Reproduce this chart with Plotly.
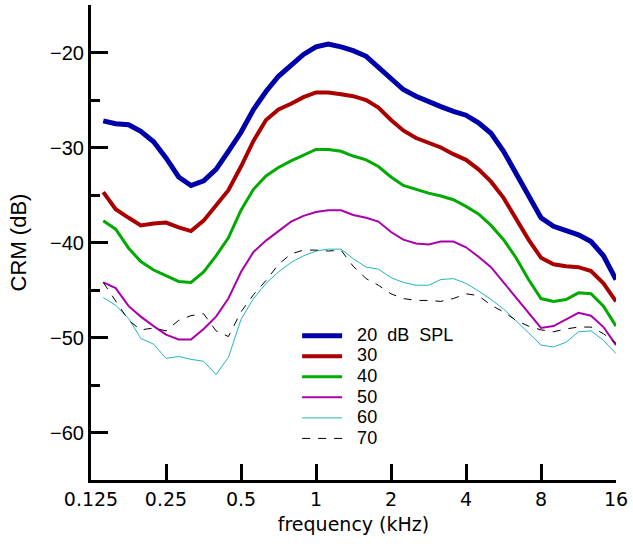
import plotly.graph_objects as go

freq_khz = [0.14, 0.157, 0.177, 0.198, 0.223, 0.25, 0.281, 0.315, 0.354, 0.397,
            0.445, 0.5, 0.561, 0.63, 0.707, 0.794, 0.891, 1.0, 1.12, 1.26,
            1.41, 1.59, 1.78, 2.0, 2.24, 2.52, 2.83, 3.17, 3.56, 4.0,
            4.49, 5.04, 5.66, 6.35, 7.13, 8.0, 8.98, 10.08, 11.31, 12.7,
            14.25, 16.0]

crm_20 = [-27.2, -27.5, -27.6, -28.3, -29.4, -31.1, -33.1, -34.0, -33.5, -32.3,
          -30.4, -28.4, -26.0, -24.1, -22.5, -21.3, -20.2, -19.4, -19.1, -19.4,
          -19.8, -20.4, -21.5, -22.7, -23.9, -24.6, -25.2, -25.7, -26.2, -26.6,
          -27.4, -28.5, -30.4, -32.8, -35.2, -37.4, -38.3, -38.7, -39.2, -39.9,
          -41.4, -43.9]
crm_30 = [-34.7, -36.5, -37.4, -38.2, -38.0, -37.9, -38.4, -38.8, -37.7, -36.1,
          -34.5, -32.0, -29.3, -27.1, -26.0, -25.4, -24.7, -24.2, -24.2, -24.4,
          -24.6, -25.0, -25.8, -27.1, -28.2, -29.0, -29.5, -30.0, -30.7, -31.3,
          -32.3, -33.6, -35.3, -37.4, -39.7, -41.6, -42.3, -42.5, -42.6, -43.0,
          -44.3, -46.2]
crm_40 = [-37.7, -38.6, -40.6, -42.0, -42.9, -43.5, -44.1, -44.2, -43.1, -41.4,
          -39.5, -36.6, -34.4, -33.0, -32.1, -31.4, -30.8, -30.2, -30.2, -30.4,
          -30.9, -31.3, -32.0, -33.1, -34.0, -34.4, -34.8, -35.1, -35.5, -36.2,
          -37.0, -38.2, -39.7, -41.6, -43.9, -45.9, -46.2, -46.0, -45.3, -45.4,
          -46.7, -48.8]
crm_50 = [-44.2, -44.8, -46.7, -47.8, -48.8, -49.7, -50.2, -50.2, -49.1, -47.8,
          -45.9, -43.1, -41.0, -39.8, -38.8, -37.8, -37.2, -36.8, -36.6, -36.6,
          -37.1, -37.4, -37.8, -38.9, -39.7, -40.1, -40.2, -39.9, -39.9, -40.5,
          -41.5, -42.6, -44.2, -45.8, -47.4, -49.0, -48.8, -48.1, -47.4, -47.7,
          -48.9, -50.8]
crm_60 = [-45.8, -46.6, -48.0, -50.1, -50.7, -52.2, -52.0, -52.3, -52.5, -53.9,
          -52.1, -48.1, -45.9, -44.3, -43.1, -42.1, -41.4, -40.9, -40.7, -40.7,
          -41.7, -42.6, -42.8, -43.7, -44.2, -44.5, -44.5, -43.9, -43.8, -44.3,
          -45.1, -46.0, -47.0, -48.2, -49.5, -50.8, -51.0, -50.5, -49.4, -49.3,
          -50.3, -51.7]
crm_70 = [-44.2, -46.1, -48.2, -49.2, -49.0, -49.3, -48.2, -47.7, -47.5, -49.3,
          -49.9, -47.3, -45.5, -44.0, -42.3, -41.2, -40.8, -40.8, -40.9, -40.8,
          -42.5, -43.8, -44.5, -45.4, -45.9, -46.1, -46.1, -46.2, -45.9, -45.4,
          -45.6, -46.6, -47.3, -48.2, -48.8, -49.2, -49.4, -49.1, -48.9, -48.9,
          -49.6, -50.6]

series_names = ["20  dB  SPL", "30", "40", "50", "60", "70"]
series_data = [crm_20, crm_30, crm_40, crm_50, crm_60, crm_70]
series_colors = ["#0000AA", "#AA0000", "#00AA00", "#AA00AA", "#22B5C0", "#000000"]
series_widths = [5, 4, 3, 2, 1, 1]
series_dash = ["solid", "solid", "solid", "solid", "solid", "8px,8px"]

x_tickvals = [0.125, 0.25, 0.5, 1, 2, 4, 8, 16]
x_ticktext = ["0.125", "0.25", "0.5", "1", "2", "4", "8", "16"]
y_tickvals = [-60, -50, -40, -30, -20]
y_ticktext = ["\u221260", "\u221250", "\u221240", "\u221230", "\u221220"]
y_minor = [-55, -45, -35, -25]

fig = go.Figure()
for name, ys, col, w, d in zip(series_names, series_data, series_colors, series_widths, series_dash):
    fig.add_trace(go.Scatter(x=freq_khz, y=ys, mode="lines",
                             name='<span style="font-size:18px">\u00A0\u00A0' + name + '</span>',
                             line=dict(color=col, width=w, dash=d)))

fig.update_layout(
    width=633, height=544,
    margin=dict(l=91, r=14, t=5, b=64),
    paper_bgcolor="white", plot_bgcolor="white",
    font=dict(family="Liberation Sans, Arial, sans-serif", size=20, color="black"),
    showlegend=True,
    legend=dict(x=0.3926, y=0.336, xanchor="left", yanchor="top",
                bgcolor="rgba(0,0,0,0)", font=dict(size=13.5),
                tracegroupgap=0, itemwidth=40),
)
fig.update_xaxes(
    type="log", range=[-0.90309, 1.20412],
    tickvals=x_tickvals, ticktext=x_ticktext,
    ticks="inside", ticklen=16, tickwidth=3, tickcolor="black",
    showline=True, linewidth=3, linecolor="black",
    showgrid=False, zeroline=False,
    tickfont=dict(family="DejaVu Sans, sans-serif", size=19),
    title=dict(text="frequency (kHz)", font=dict(family="DejaVu Sans, sans-serif", size=19), standoff=9),
)
fig.update_yaxes(
    range=[-65, -15],
    tickvals=y_tickvals, ticktext=y_ticktext,
    ticks="inside", ticklen=17, tickwidth=3, tickcolor="black",
    minor=dict(tickvals=y_minor, ticks="inside", ticklen=9, tickwidth=3, tickcolor="black"),
    showline=True, linewidth=3, linecolor="black",
    showgrid=False, zeroline=False,
    title=dict(text="CRM (dB)", font=dict(size=22), standoff=18),
)

fig.write_html("out.html")
